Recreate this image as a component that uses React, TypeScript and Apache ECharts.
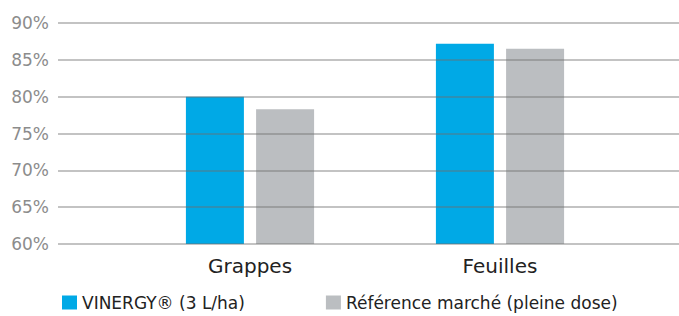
import React, { useEffect, useRef } from "react";
import * as echarts from "echarts";

const categories = ["Grappes", "Feuilles"];
const vinergy = [80.0, 87.2];
const reference = [78.3, 86.5];
const seriesNames = ["VINERGY® (3 L/ha)", "Référence marché (pleine dose)"];
const yMin = 60;
const yMax = 90;
const yStep = 5;

export default function App() {
  const ref = useRef<HTMLDivElement>(null);
  useEffect(() => {
    if (!ref.current) return;
    const chart = echarts.init(ref.current, null, { renderer: "svg" });
    const font = "'DejaVu Sans', 'Noto Sans', sans-serif";
    chart.setOption({
      animation: false,
      textStyle: { fontFamily: font },
      grid: [
        { left: 58, right: 0, top: 23, bottom: 72 },
        { left: 125, right: 54, top: 23, bottom: 72 },
      ],
      xAxis: [
        { type: "value", gridIndex: 0, show: false, min: 0, max: 1 },
        {
          type: "category",
          gridIndex: 1,
          data: categories,
          axisLine: { show: false },
          axisTick: { show: false },
          axisLabel: { color: "#222", fontSize: 20, margin: 12, fontFamily: font },
        },
      ],
      yAxis: [
        {
          type: "value",
          gridIndex: 0,
          min: yMin,
          max: yMax,
          interval: yStep,
          z: 5,
          axisLine: { show: false },
          axisTick: { show: false },
          axisLabel: {
            formatter: "{value}%",
            color: "#8c8c8c",
            fontSize: 17,
            margin: 9,
            fontFamily: font,
          },
          splitLine: { lineStyle: { color: "rgba(110,110,110,0.55)", width: 1.5 } },
        },
        {
          type: "value",
          gridIndex: 1,
          min: yMin,
          max: yMax,
          interval: yStep,
          show: false,
          splitLine: { show: false },
        },
      ],
      legend: {
        left: 62,
        top: 294,
        padding: 0,
        itemWidth: 15,
        itemHeight: 14,
        itemGap: 81,
        icon: "rect",
        textStyle: { color: "#222", fontSize: 17, fontFamily: font },
        data: seriesNames,
      },
      series: [
        {
          name: seriesNames[0],
          type: "bar",
          xAxisIndex: 1,
          yAxisIndex: 1,
          data: vinergy,
          barWidth: 58,
          barGap: "21%",
          itemStyle: { color: "#00A9E6" },
        },
        {
          name: seriesNames[1],
          type: "bar",
          xAxisIndex: 1,
          yAxisIndex: 1,
          data: reference,
          barWidth: 58,
          barGap: "21%",
          itemStyle: { color: "#BBBEC1" },
        },
      ],
    });
    return () => chart.dispose();
  }, []);
  return (
    <div
      ref={ref}
      style={{ position: "fixed", left: 0, top: 0, width: 679, height: 316, background: "#fff" }}
    />
  );
}
